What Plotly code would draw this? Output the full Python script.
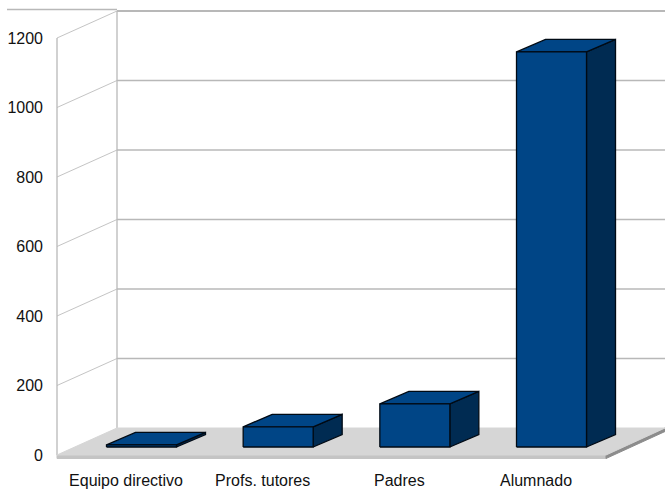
import plotly.graph_objects as go

categories = ["Equipo directivo", "Profs. tutores", "Padres", "Alumnado"]
values = [6, 58, 124, 1137]
y_ticks = [0, 200, 400, 600, 800, 1000, 1200]

W, H = 665, 489
WALL_PX, MB = 57, 29
PX_PER_UNIT = 417 / 1200
PX_PER_CAT = 136.67
Y0_PX = 455
X0_PX = 141.5


def ux(px):
    return px / PX_PER_CAT


def uy(px):
    return px / PX_PER_UNIT


x_min = ux(0 - X0_PX)
x_lo = ux(WALL_PX - X0_PX)
x_hi = ux(W - X0_PX)
y_lo = uy(Y0_PX - (H - MB))
y_hi = uy(Y0_PX)

wall_dx, wall_dy = ux(60), uy(27)
bar_dx, bar_dy = ux(29), uy(12.5)
bar_base_y = uy(8)
bar_half = ux(35)
floor_right = ux(606 - X0_PX)
strip = uy(3.5)

GRID = "#b8b8b8"
fig = go.Figure()


def poly(xs, ys, fill, line=None, width=1.0):
    fig.add_trace(go.Scatter(
        x=list(xs) + [xs[0]], y=list(ys) + [ys[0]], mode="lines", fill="toself",
        fillcolor=fill, line=dict(color=line or fill, width=width),
        hoverinfo="skip", showlegend=False))


def path(xs, ys, color=GRID, width=1.3):
    fig.add_trace(go.Scatter(
        x=xs, y=ys, mode="lines", line=dict(color=color, width=width),
        hoverinfo="skip", showlegend=False, cliponaxis=False))


# walls
for t in y_ticks:
    if t == 0:
        continue
    path([x_lo, x_lo + wall_dx], [t, t + wall_dy], color="#c4c4c4", width=1)
    path([x_lo + wall_dx, x_hi], [t + wall_dy, t + wall_dy],
         width=2 if t == 1200 else 1.3)
path([x_lo, x_lo], [0, 1200])
path([x_lo + wall_dx, x_lo + wall_dx], [wall_dy, 1200 + wall_dy])

# floor
poly([x_lo, floor_right, floor_right, x_lo], [0, 0, -strip, -strip], "#c4c4c4")
poly([floor_right, x_hi, x_hi, floor_right],
     [-strip, wall_dy - strip, wall_dy, 0], "#8c8c8c")
poly([x_lo, floor_right, x_hi, x_lo + wall_dx], [0, 0, wall_dy, wall_dy], "#d6d6d6")

# bars
FRONT, SIDE, EDGE = "#004586", "#002b52", "#000a14"
for i, v in enumerate(values):
    x0, x1 = i - bar_half, i + bar_half
    b, t = bar_base_y, bar_base_y + v
    poly([x1, x1 + bar_dx, x1 + bar_dx, x1], [b, b + bar_dy, t + bar_dy, t], SIDE, EDGE, 1.3)
    poly([x0, x1, x1 + bar_dx, x0 + bar_dx], [t, t, t + bar_dy, t + bar_dy], FRONT, EDGE, 1.3)
    poly([x0, x1, x1, x0], [b, b, t, t], FRONT, EDGE, 1.3)

fig.update_layout(
    width=W, height=H, autosize=False,
    margin=dict(l=0, r=0, t=0, b=MB),
    paper_bgcolor="white", plot_bgcolor="white",
    font=dict(family="Liberation Sans", color="#111111"),
    xaxis=dict(range=[x_min, x_hi], showgrid=False, zeroline=False, showline=False,
               tickmode="array",
               tickvals=[i - ux(15.5) for i in range(len(categories))],
               ticktext=categories, ticks="", tickfont=dict(size=16), ticklabelstandoff=9),
    yaxis=dict(range=[y_lo, y_hi], showgrid=False, zeroline=False, showline=False,
               anchor="free", position=WALL_PX / W,
               tickmode="array", tickvals=y_ticks, ticks="",
               tickfont=dict(size=16), ticklabelstandoff=14),
    shapes=[dict(type="line", xref="x", yref="y",
                 x0=ux(7 - X0_PX), x1=x_lo + wall_dx,
                 y0=1200 + wall_dy + uy(1.5), y1=1200 + wall_dy + uy(1.5),
                 line=dict(color=GRID, width=1.3))],
)
fig.write_html("out.html", config={"displayModeBar": False},
               post_script="document.documentElement.style.overflow='hidden';document.body.style.margin='0';")
